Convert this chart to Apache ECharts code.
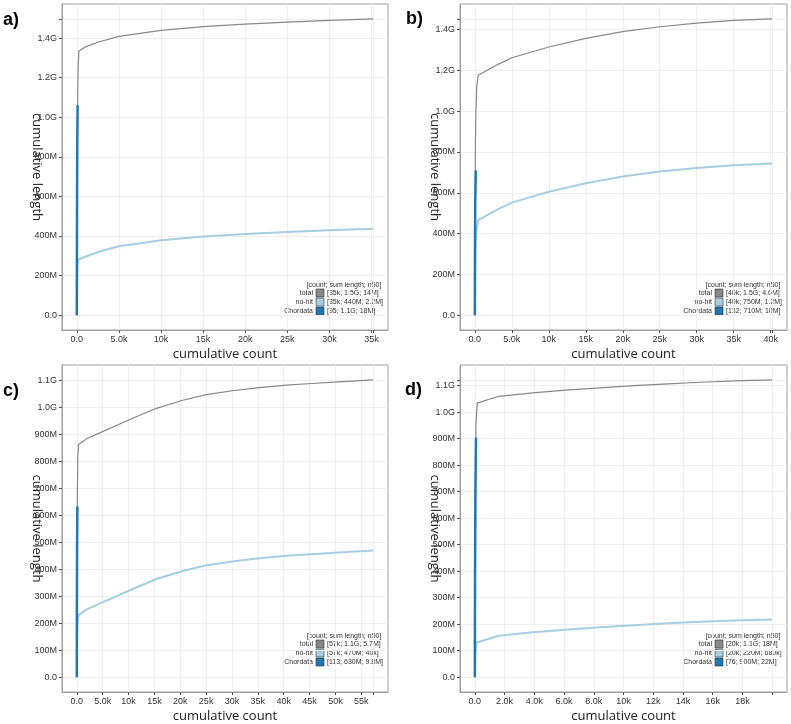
<!DOCTYPE html>
<html>
<head>
<meta charset="utf-8">
<script src="https://cdn.jsdelivr.net/npm/echarts@6/dist/echarts.min.js"></script>
<style>
  html, body { margin: 0; padding: 0; background: #fff; }
  #main { width: 791px; height: 724px; }
</style>
</head>
<body>
<div id="main"></div>
<script>
// panel letters, series names and legend texts
const panelLabels = ['a)', 'b)', 'c)', 'd)'];
const seriesNames = ['total', 'no-hit', 'Chordata'];
const seriesColors = ['#888888', '#a6cee3', '#1f78b4'];
const legendHeader = '[count; sum length; n50]';
const legendA = ['[35k; 1.5G; 14M]', '[35k; 440M; 2.2M]', '[95; 1.1G; 18M]'];
const legendB = ['[40k; 1.5G; 4.6M]', '[40k; 750M; 1.2M]', '[132; 710M; 10M]'];
const legendC = ['[57k; 1.1G; 5.7M]', '[57k; 470M; 40k]', '[113; 630M; 9.8M]'];
const legendD = ['[20k; 1.1G; 18M]', '[20k; 220M; 680k]', '[76; 900M; 22M]'];

// cumulative curves: [cumulative count, cumulative length]
const totalA = [[0,0],[40,5.2e8],[95,1.06e9],[150,1.25e9],[250,1.335e9],[1000,1.355e9],[2600,1.38e9],[5000,1.408e9],[10000,1.439e9],[15000,1.458e9],[20000,1.47e9],[25000,1.48e9],[30000,1.489e9],[35200,1.497e9]];
const nohitA = [[0,0],[40,1.8e8],[100,2.5e8],[155,2.8e8],[1000,2.95e8],[2600,3.2e8],[5000,3.48e8],[10000,3.79e8],[15000,3.98e8],[20000,4.1e8],[25000,4.2e8],[30000,4.29e8],[35200,4.37e8]];
const chordA = [[0,0],[10,3e8],[30,6.2e8],[60,9e8],[95,1.06e9]];

const totalB = [[0,0],[60,8e8],[132,9.8e8],[250,1.12e9],[450,1.176e9],[3200,1.231e9],[5000,1.262e9],[10000,1.315e9],[15000,1.357e9],[20000,1.39e9],[25000,1.414e9],[30000,1.432e9],[35000,1.445e9],[40200,1.453e9]];
const nohitB = [[0,0],[50,2.5e8],[150,4e8],[450,4.66e8],[3200,5.21e8],[5000,5.52e8],[10000,6.05e8],[15000,6.47e8],[20000,6.8e8],[25000,7.04e8],[30000,7.22e8],[35000,7.35e8],[40200,7.44e8]];
const chordB = [[0,0],[15,3e8],[50,5.6e8],[132,7.1e8]];

const totalC = [[0,0],[60,5.6e8],[113,7e8],[200,8.2e8],[330,8.63e8],[2000,8.85e8],[4200,9.04e8],[10800,9.6e8],[15400,9.97e8],[20300,1.026e9],[25000,1.048e9],[30400,1.063e9],[35300,1.074e9],[40500,1.083e9],[45400,1.089e9],[50600,1.095e9],[57300,1.1025e9]];
const nohitC = [[0,0],[40,1.3e8],[120,2e8],[330,2.3e8],[2000,2.52e8],[4200,2.71e8],[10800,3.27e8],[15400,3.64e8],[20300,3.93e8],[25000,4.15e8],[30400,4.3e8],[35300,4.41e8],[40500,4.5e8],[45400,4.56e8],[50600,4.62e8],[57300,4.7e8]];
const chordC = [[0,0],[15,2.5e8],[50,4.8e8],[113,6.33e8]];

const totalD = [[0,0],[76,9.6e8],[160,1.034e9],[1600,1.06e9],[3900,1.073e9],[6100,1.083e9],[8400,1.092e9],[10700,1.1e9],[13000,1.107e9],[15200,1.113e9],[17500,1.118e9],[20000,1.122e9]];
const nohitD = [[0,0],[20,8e7],[90,1.3e8],[1600,1.56e8],[3900,1.69e8],[6100,1.79e8],[8400,1.88e8],[10700,1.96e8],[13000,2.03e8],[15200,2.09e8],[17500,2.14e8],[20000,2.18e8]];
const chordD = [[0,0],[10,3.5e8],[35,7e8],[76,9.04e8]];

// tick labels (plus one unlabelled tick at the data max)
const xTicksA = [0, 5000, 10000, 15000, 20000, 25000, 30000, 35000];
const xTicksB = [0, 5000, 10000, 15000, 20000, 25000, 30000, 35000, 40000];
const xTicksC = [0, 5000, 10000, 15000, 20000, 25000, 30000, 35000, 40000, 45000, 50000, 55000];
const xTicksD = [0, 2000, 4000, 6000, 8000, 10000, 12000, 14000, 16000, 18000];
const yTicksA = [0, 2e8, 4e8, 6e8, 8e8, 1e9, 1.2e9, 1.4e9];
const yTicksB = [0, 2e8, 4e8, 6e8, 8e8, 1e9, 1.2e9, 1.4e9];
const yTicksC = [0, 1e8, 2e8, 3e8, 4e8, 5e8, 6e8, 7e8, 8e8, 9e8, 1e9, 1.1e9];
const yTicksD = [0, 1e8, 2e8, 3e8, 4e8, 5e8, 6e8, 7e8, 8e8, 9e8, 1e9, 1.1e9];

const panels = [
  { grid: { left: 62, top: 4, width: 326, height: 326 }, total: totalA, nohit: nohitA, chord: chordA, xt: xTicksA, yt: yTicksA, leg: legendA, legY: 285, lab: [3, 20] },
  { grid: { left: 460, top: 4, width: 327, height: 326 }, total: totalB, nohit: nohitB, chord: chordB, xt: xTicksB, yt: yTicksB, leg: legendB, legY: 285, lab: [406, 19] },
  { grid: { left: 62, top: 365, width: 326, height: 327 }, total: totalC, nohit: nohitC, chord: chordC, xt: xTicksC, yt: yTicksC, leg: legendC, legY: 636, lab: [3, 391] },
  { grid: { left: 460, top: 365, width: 327, height: 327 }, total: totalD, nohit: nohitD, chord: chordD, xt: xTicksD, yt: yTicksD, leg: legendD, legY: 636, lab: [405, 390] }
];

function fmtX(v) {
  if (v === 0) return '0.0';
  if (v < 10000) return (v / 1000).toFixed(1) + 'k';
  return Math.round(v / 1000) + 'k';
}
function fmtY(v) {
  if (v === 0) return '0.0';
  if (v < 1e9) return Math.round(v / 1e6) + 'M';
  return (v / 1e9).toFixed(1) + 'G';
}

const tickFont = { fontFamily: 'Liberation Sans, Arial, sans-serif', fontSize: 9, color: '#333' };
const titleFont = { fontFamily: 'Open Sans, sans-serif', fontSize: 13, color: '#222' };

const grids = [], xAxes = [], yAxes = [], series = [], graphic = [];

panels.forEach((p, i) => {
  const xMax = p.total[p.total.length - 1][0];
  const yMax = p.total[p.total.length - 1][1];
  grids.push(Object.assign({
    show: true, borderColor: '#a0a0a0', borderWidth: 1, backgroundColor: '#fff',
    containLabel: false, outerBoundsMode: 'none'
  }, p.grid));

  xAxes.push({
    type: 'value', gridIndex: i,
    min: -0.05 * xMax, max: 1.05 * xMax,
    name: 'cumulative count', nameLocation: 'middle', nameGap: 18, nameMoveOverlap: false,
    nameTextStyle: titleFont,
    axisLine: { show: true, onZero: false, lineStyle: { color: '#a0a0a0' } },
    axisTick: { show: true, length: 3, customValues: p.xt.concat([xMax]), lineStyle: { color: '#555' } },
    axisLabel: Object.assign({ customValues: p.xt, formatter: fmtX, margin: 5 }, tickFont),
    splitLine: { show: true, lineStyle: { color: '#efefef', width: 1 } }
  });
  yAxes.push({
    type: 'value', gridIndex: i,
    min: -0.05 * yMax, max: 1.05 * yMax,
    name: 'cumulative length', nameLocation: 'middle', nameRotate: -90, nameGap: 19, nameMoveOverlap: false,
    nameTextStyle: titleFont,
    axisLine: { show: true, onZero: false, lineStyle: { color: '#a0a0a0' } },
    axisTick: { show: true, length: 3, customValues: p.yt.concat([yMax]), lineStyle: { color: '#555' } },
    axisLabel: Object.assign({ customValues: p.yt, formatter: fmtY, margin: 5 }, tickFont),
    splitLine: { show: true, lineStyle: { color: '#efefef', width: 1 } }
  });

  [p.total, p.nohit, p.chord].forEach((d, k) => {
    series.push({
      type: 'line', name: seriesNames[k], xAxisIndex: i, yAxisIndex: i,
      data: d, showSymbol: false, smooth: false,
      lineStyle: { color: seriesColors[k], width: [1.2, 2, 2.5][k] },
      itemStyle: { color: seriesColors[k] },
      z: 2 + k, silent: true
    });
  });

  // panel letter
  graphic.push({
    type: 'text', x: p.lab[0], y: p.lab[1],
    style: { text: panelLabels[i], font: 'bold 18px Liberation Sans, Arial, sans-serif', fill: '#000', textVerticalAlign: 'middle' }
  });

  // legend block at the lower right of the panel
  const R = p.grid.left + p.grid.width;
  const smallFont = '7px Liberation Sans, Arial, sans-serif';
  graphic.push({
    type: 'text', x: R - 44, y: p.legY,
    style: { text: legendHeader, font: smallFont, fill: '#333', textAlign: 'center', textVerticalAlign: 'middle' }
  });
  seriesNames.forEach((nm, k) => {
    const yy = p.legY + 8 + k * 9;
    graphic.push({
      type: 'text', x: R - 75, y: yy,
      style: { text: nm, font: smallFont, fill: '#333', textAlign: 'right', textVerticalAlign: 'middle' }
    });
    graphic.push({
      type: 'rect', shape: { x: R - 72, y: yy - 4, width: 8, height: 8 },
      style: { fill: seriesColors[k], stroke: '#333', lineWidth: 0.6 }
    });
    graphic.push({
      type: 'text', x: R - 61, y: yy,
      style: { text: p.leg[k], font: smallFont, fill: '#333', textAlign: 'left', textVerticalAlign: 'middle' }
    });
  });
});

const chart = echarts.init(document.getElementById('main'));
chart.setOption({
  animation: false,
  backgroundColor: '#fff',
  grid: grids,
  xAxis: xAxes,
  yAxis: yAxes,
  series: series,
  graphic: graphic
});
</script>
</body>
</html>
